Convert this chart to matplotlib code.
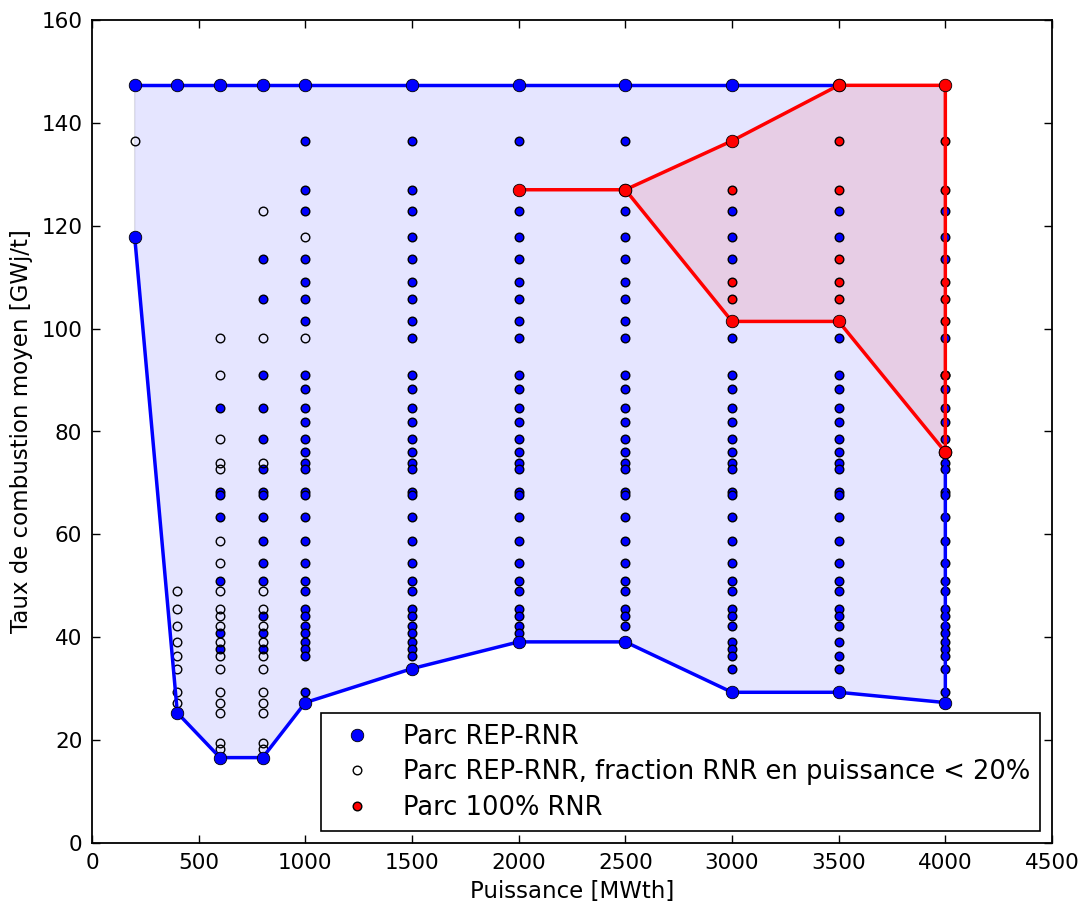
import matplotlib
matplotlib.use("Agg")
import matplotlib.pyplot as plt
from matplotlib.lines import Line2D

# ---- data ----
bound_upper_x = [200, 400, 600, 800, 1000, 1500, 2000, 2500, 3000, 3500]
bound_upper_y = [147.3] * 10
bound_lower_x = [200, 400, 600, 800, 1000, 1500, 2000, 2500, 3000, 3500, 4000, 4000]
bound_lower_y = [117.9, 25.3, 16.6, 16.6, 27.3, 33.9, 39.1, 39.1, 29.3, 29.3, 27.3, 76.0]

rnr_upper_x = [2000, 2500, 3000, 3500, 4000, 4000]
rnr_upper_y = [127.0, 127.0, 136.5, 147.3, 147.3, 76.0]
rnr_lower_x = [2500, 3000, 3500, 4000]
rnr_lower_y = [127.0, 101.4, 101.4, 76.0]

full_col = [136.5, 127.0, 122.9, 117.9, 113.6, 109.1, 105.8, 101.4, 98.2, 90.9,
            88.3, 84.6, 81.8, 78.5, 76.0, 73.9, 72.7, 68.3, 67.7, 63.4, 58.8,
            54.5, 51.0, 49.0, 45.5, 44.2, 42.1, 40.8, 39.1, 37.8, 36.4]
low_part = [90.9, 88.3, 84.6, 81.8, 78.5, 76.0, 73.9, 72.7, 68.3, 67.7, 63.4,
            58.8, 54.5, 51.0, 49.0, 45.5, 44.2, 42.1]

filled = {
    600: [84.6, 68.3, 67.7, 63.4, 51.0, 40.8, 37.8],
    800: [113.6, 105.8, 90.9, 84.6, 78.5, 72.7, 68.3, 67.7, 63.4, 58.8, 54.5,
          51.0, 44.2, 40.8, 37.8],
    1000: [136.5, 127.0, 122.9, 113.6, 109.1, 105.8, 101.4, 90.9, 88.3, 84.6,
           81.8, 78.5, 76.0, 73.9, 72.7, 68.3, 67.7, 63.4, 58.8, 54.5, 51.0,
           49.0, 45.5, 44.2, 42.1, 40.8, 39.1, 37.8, 36.4, 29.3],
    1500: full_col,
    2000: [136.5, 122.9, 117.9, 113.6, 109.1, 105.8, 101.4, 98.2] + low_part + [40.8],
    2500: [136.5, 122.9, 117.9, 113.6, 109.1, 105.8, 101.4, 98.2] + low_part,
    3000: [122.9, 117.9, 113.6, 98.2] + low_part + [39.1, 37.8, 36.4, 33.9],
    3500: [122.9, 117.9, 98.2] + low_part + [39.1, 36.4, 33.9],
    4000: [122.9, 117.9, 113.6, 98.2] + low_part + [40.8, 39.1, 37.8, 36.4, 33.9, 29.3],
}
open_pts = {
    200: [136.5],
    400: [49.0, 45.5, 42.1, 39.1, 36.4, 33.9, 29.3, 27.3],
    600: [98.2, 90.9, 78.5, 73.9, 72.7, 58.8, 54.5, 49.0, 45.5, 44.2, 42.1,
          39.1, 36.4, 33.9, 29.3, 27.3, 25.3, 19.5, 18.2],
    800: [122.9, 98.2, 73.9, 49.0, 45.5, 42.1, 39.1, 36.4, 33.9, 29.3, 27.3,
          25.3, 19.5, 18.2],
    1000: [117.9, 98.2],
}
red_pts = {
    3000: [127.0, 109.1, 105.8],
    3500: [136.5, 127.0, 113.6, 109.1, 105.8],
    4000: [136.5, 127.0, 109.1, 105.8, 101.4, 90.9],
}

labels = ["Parc REP-RNR", "Parc REP-RNR, fraction RNR en puissance < 20%", "Parc 100% RNR"]

plt.rcParams['font.family'] = ['DejaVu Sans']
fig = plt.figure(figsize=(10.83, 9.08), dpi=100)
ax = fig.add_axes([92/1083, 1-843/908, 960/1083, 823/908])

# envelope fill
poly_x = bound_upper_x + [4000] + bound_lower_x[::-1][1:]
poly_y = bound_upper_y + [147.3] + bound_lower_y[::-1][1:]
ax.fill(poly_x, poly_y, facecolor='b', edgecolor='k', alpha=0.1, lw=1, zorder=1)
rp_x = rnr_upper_x[1:] + rnr_lower_x[::-1][1:]
rp_y = rnr_upper_y[1:] + rnr_lower_y[::-1][1:]
ax.fill(rp_x, rp_y, facecolor='r', edgecolor='k', alpha=0.1, lw=1, zorder=1)

ms_small = 6.2
for x, ys in filled.items():
    ax.plot([x]*len(ys), ys, 'o', color='b', mec='k', ms=ms_small, mew=1, zorder=3)
for x, ys in open_pts.items():
    ax.plot([x]*len(ys), ys, 'o', mfc='none', mec='k', ms=ms_small, mew=1, zorder=3)
for x, ys in red_pts.items():
    ax.plot([x]*len(ys), ys, 'o', color='r', mec='k', ms=ms_small, mew=1, zorder=3)

ax.plot(bound_upper_x, bound_upper_y, '-o', color='b', lw=2.5, ms=9, mec='k', mew=0.6, zorder=4)
ax.plot(bound_lower_x, bound_lower_y, '-o', color='b', lw=2.5, ms=9, mec='k', mew=0.6, zorder=4)
ax.plot(rnr_upper_x, rnr_upper_y, '-o', color='r', lw=2.5, ms=9, mec='k', mew=0.6, zorder=5)
ax.plot(rnr_lower_x, rnr_lower_y, '-o', color='r', lw=2.5, ms=9, mec='k', mew=0.6, zorder=5)

ax.set_xlim(0, 4500)
ax.set_ylim(0, 160)
ax.set_xticks(range(0, 4501, 500))
ax.set_yticks(range(0, 161, 20))
ax.tick_params(direction='in', top=True, right=True, length=6, width=1, labelsize=15.5, pad=7)
for s in ax.spines.values():
    s.set_linewidth(1.3)
ax.set_xlabel("Puissance [MWth]", fontsize=16.5, labelpad=5)
ax.set_ylabel("Taux de combustion moyen [GWj/t]", fontsize=16.5, labelpad=6)

handles = [
    Line2D([], [], ls='none', marker='o', color='b', mec='k', ms=9, mew=0.6),
    Line2D([], [], ls='none', marker='o', mfc='none', mec='k', ms=ms_small, mew=1),
    Line2D([], [], ls='none', marker='o', color='r', mec='k', ms=ms_small, mew=1),
]
leg = ax.legend(handles, labels, loc='lower right', numpoints=1, fontsize=18.5,
                frameon=True, fancybox=False, framealpha=1, edgecolor='k',
                borderaxespad=0.45, handlelength=2.0, handletextpad=0.8,
                borderpad=0.4, labelspacing=0.38)
leg.get_frame().set_linewidth(1.2)

fig.savefig("out.png", dpi=100, facecolor='white')
